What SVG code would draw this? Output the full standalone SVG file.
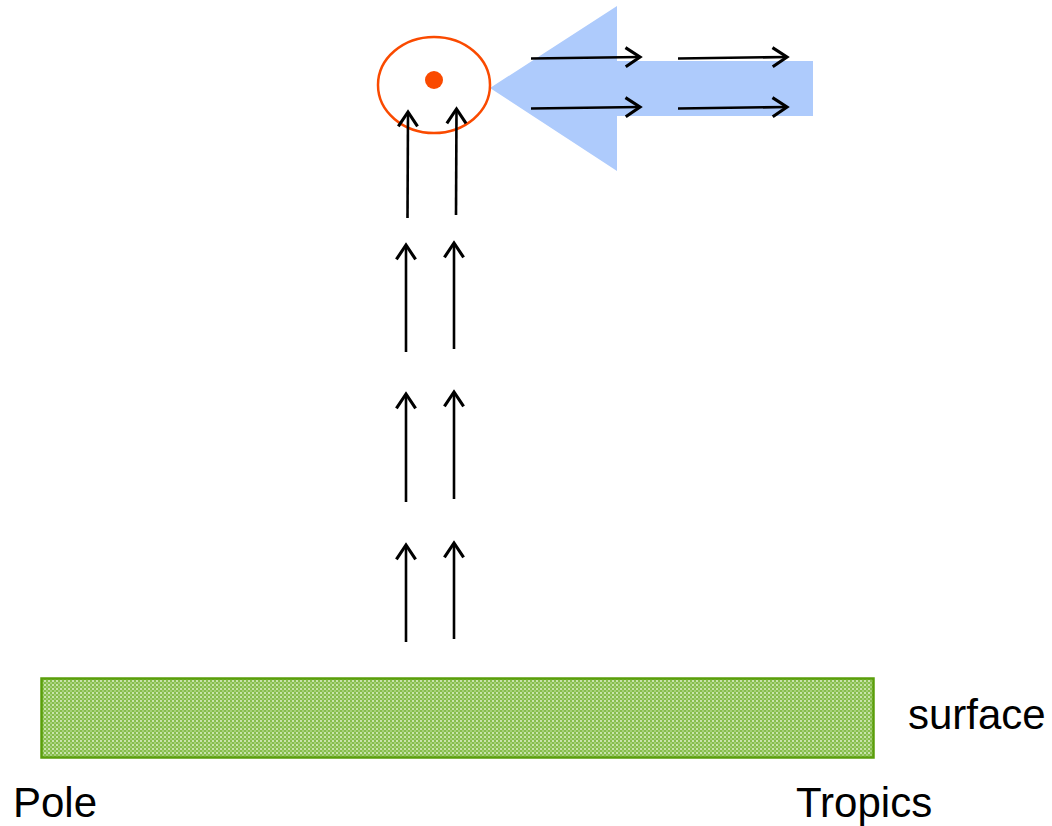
<svg xmlns="http://www.w3.org/2000/svg" width="1052" height="826" viewBox="0 0 1052 826">
<style>
.arr{stroke:#000;stroke-width:2.6;fill:none;marker-end:url(#open)}
.lbl{font-family:"Liberation Sans",Arial,sans-serif;font-size:42px;fill:#000}
</style>
<defs>
<marker id="open" markerUnits="userSpaceOnUse" markerWidth="24" markerHeight="24" viewBox="-14 -10 16 20" refX="0" refY="0" orient="auto">
<path d="M-12,-8 L0,0 L-12,8" fill="none" stroke="#000" stroke-width="2.6"/>
</marker>
<pattern id="dots" patternUnits="userSpaceOnUse" width="4" height="4">
<rect width="4" height="4" fill="#86bd4c"/>
<rect x="0" y="0" width="2" height="2" fill="#c9e4ac"/>
<rect x="2" y="2" width="2" height="2" fill="#a6d07a"/>
</pattern>
</defs>
<g id="surface">
<rect x="41.5" y="678.5" width="832" height="79" fill="url(#dots)" stroke="#5a9e0a" stroke-width="2.5"/>
</g>
<g id="blue-arrow">
<polygon points="490,88 617,6 617,61 813,61 813,116 617,116 617,171" fill="#aecbfc"/>
</g>
<g id="vortex">
<ellipse cx="434" cy="85" rx="56" ry="48" fill="none" stroke="#fa4a00" stroke-width="2.5"/>
<circle cx="434" cy="80" r="9" fill="#fa4a00"/>
</g>
<g id="connectors">
<line class="arr" x1="531" y1="58.5" x2="640" y2="57"/>
<line class="arr" x1="678" y1="58.5" x2="787" y2="57"/>
<line class="arr" x1="531" y1="108.5" x2="640" y2="107"/>
<line class="arr" x1="678" y1="108.5" x2="787" y2="107"/>
<line class="arr" x1="407.5" y1="218" x2="408" y2="112"/>
<line class="arr" x1="456" y1="215" x2="456.5" y2="109"/>
<line class="arr" x1="406" y1="352" x2="406" y2="245"/>
<line class="arr" x1="454" y1="349" x2="454" y2="243"/>
<line class="arr" x1="406" y1="502" x2="406" y2="394"/>
<line class="arr" x1="454" y1="499" x2="454" y2="392"/>
<line class="arr" x1="406" y1="642" x2="406" y2="545"/>
<line class="arr" x1="454" y1="639" x2="454" y2="543"/>
</g>
<g id="labels">
<text class="lbl" x="908" y="729">surface</text>
<text class="lbl" x="13" y="817">Pole</text>
<text class="lbl" x="796" y="817">Tropics</text>
</g>
</svg>
